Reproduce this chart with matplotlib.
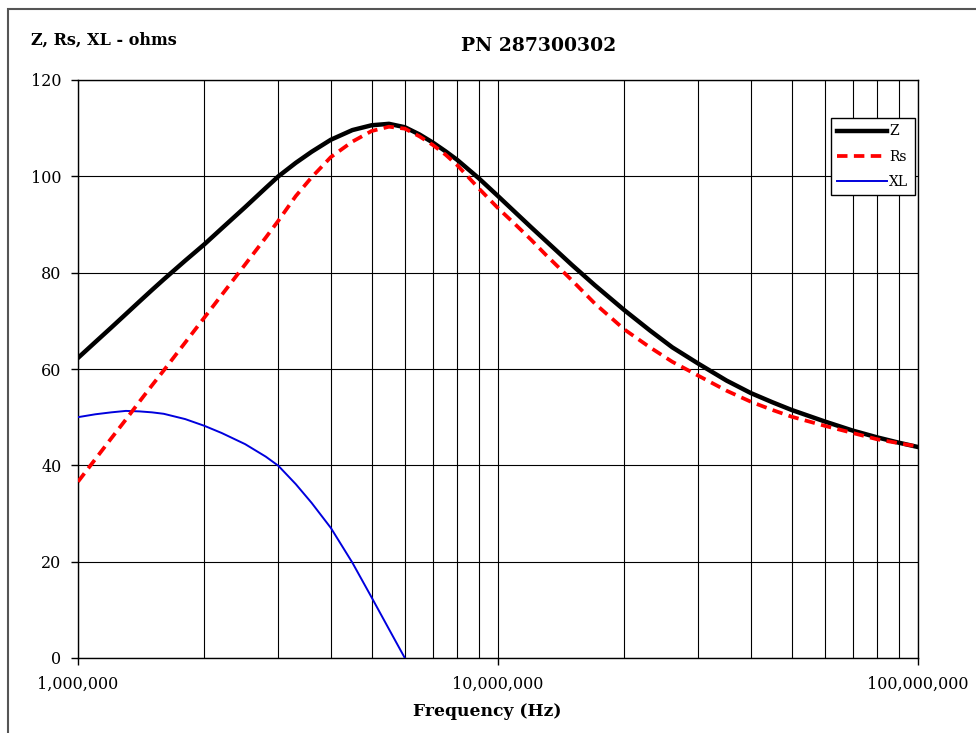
import matplotlib
matplotlib.use("Agg")
import matplotlib.pyplot as plt
from matplotlib.ticker import FixedLocator, FuncFormatter, NullFormatter
from matplotlib.patches import Rectangle

plt.rcParams['font.family'] = ['DejaVu Serif']

# ---- data (frequency in MHz) ----
f_mhz = [1.0, 1.1, 1.2, 1.3, 1.4, 1.5, 1.6, 1.8, 2.0, 2.2, 2.5, 2.8, 3.0, 3.3,
         3.6, 4.0, 4.5, 5.0, 5.5, 6.0, 6.5, 7.0, 7.5, 8.0, 9.0, 10, 11, 12, 13,
         15, 17, 20, 23, 26, 30, 35, 40, 45, 50, 60, 70, 80, 90, 100]
z_vals = [62.3, 65.6, 68.6, 71.4, 74.0, 76.4, 78.6, 82.5, 85.9, 89.2, 93.6, 97.6,
          100.0, 102.8, 105.1, 107.6, 109.6, 110.6, 110.9, 110.2, 108.7, 107.0,
          105.2, 103.4, 99.6, 95.9, 92.5, 89.4, 86.6, 81.6, 77.4, 72.2, 68.0,
          64.5, 61.1, 57.6, 55.0, 53.1, 51.5, 49.1, 47.2, 45.8, 44.7, 43.8]
rs_vals = [36.6, 41.3, 45.6, 49.5, 53.2, 56.6, 59.7, 65.5, 70.7, 75.4, 81.7, 87.3,
           90.8, 95.9, 99.8, 104.0, 107.2, 109.4, 110.3, 109.9, 108.3, 106.5,
           104.5, 102.3, 97.5, 93.4, 90.0, 86.8, 83.7, 78.4, 73.6, 68.2, 64.5,
           61.5, 58.6, 55.5, 53.2, 51.5, 50.1, 48.2, 46.7, 45.4, 44.6, 43.9]

f_xl_mhz = [1.0, 1.1, 1.2, 1.3, 1.4, 1.5, 1.6, 1.8, 2.0, 2.2, 2.5, 2.8, 3.0, 3.3,
            3.6, 4.0, 4.5, 5.0, 5.5, 6.0]
xl_vals = [50.0, 50.6, 51.0, 51.3, 51.2, 51.0, 50.7, 49.6, 48.2, 46.7, 44.4, 41.8,
           39.9, 36.1, 32.2, 27.0, 19.8, 12.6, 6.0, 0.0]

x_major = [1e6, 1e7, 1e8]
x_minor = [m * 10**e for e in (6, 7) for m in range(2, 10)]
y_ticks = [0, 20, 40, 60, 80, 100, 120]

title = "PN 287300302"
y_title = "Z, Rs, XL - ohms"
x_title = "Frequency (Hz)"

freq = [v * 1e6 for v in f_mhz]
freq_xl = [v * 1e6 for v in f_xl_mhz]

# ---- figure ----
W, H = 976, 733
fig = plt.figure(figsize=(W / 100, H / 100), dpi=100)
ax = fig.add_axes([78 / W, 1 - 658 / H, 840 / W, 578 / H])

ax.plot(freq, z_vals, color='black', lw=3.2, label='Z', zorder=4)
ax.plot(freq, rs_vals, color='#ff0000', lw=2.7, ls=(0, (2.8, 1.7)), label='Rs', zorder=5)
ax.plot(freq_xl, xl_vals, color='#0000dd', lw=1.4, label='XL', zorder=3)

ax.set_xscale('log')
ax.set_xlim(1e6, 1e8)
ax.set_ylim(0, 120)
ax.xaxis.set_major_locator(FixedLocator(x_major))
ax.xaxis.set_minor_locator(FixedLocator(x_minor))
ax.xaxis.set_major_formatter(FuncFormatter(lambda v, p: f"{int(round(v)):,}"))
ax.xaxis.set_minor_formatter(NullFormatter())
ax.yaxis.set_major_locator(FixedLocator(y_ticks))

ax.grid(True, which='both', color='black', lw=0.8)
ax.set_axisbelow(True)
ax.tick_params(axis='x', which='major', direction='out', length=5, width=1,
               labelsize=11.5, pad=8, color='black')
ax.tick_params(axis='x', which='minor', length=0)
ax.tick_params(axis='y', direction='out', length=5, width=1, labelsize=11.5, pad=7)
for s in ax.spines.values():
    s.set_color('black')
    s.set_linewidth(1.0)

leg = ax.legend(loc='upper right', bbox_to_anchor=(0.996, 0.934), fontsize=10,
                handlelength=3.6, handletextpad=0.15, borderpad=0.45,
                labelspacing=0.8, borderaxespad=0, fancybox=False,
                framealpha=1, edgecolor='black')
leg.get_frame().set_linewidth(1.0)

fig.text(539 / W, 1 - 46 / H, title, ha='center', va='center',
         fontsize=13.5, fontweight='bold')
fig.text(31 / W, 1 - 40 / H, y_title, ha='left', va='center',
         fontsize=11.5, fontweight='bold')
fig.text(487 / W, 1 - 712 / H, x_title, ha='center', va='center',
         fontsize=12.3, fontweight='bold')

# outer chart border
fig.patches.append(Rectangle((8 / W, -0.05), 1.1, 1 - 9 / H + 0.05,
                             transform=fig.transFigure, fill=False,
                             edgecolor='#555555', lw=1.5))

fig.savefig('out.png', dpi=100)
